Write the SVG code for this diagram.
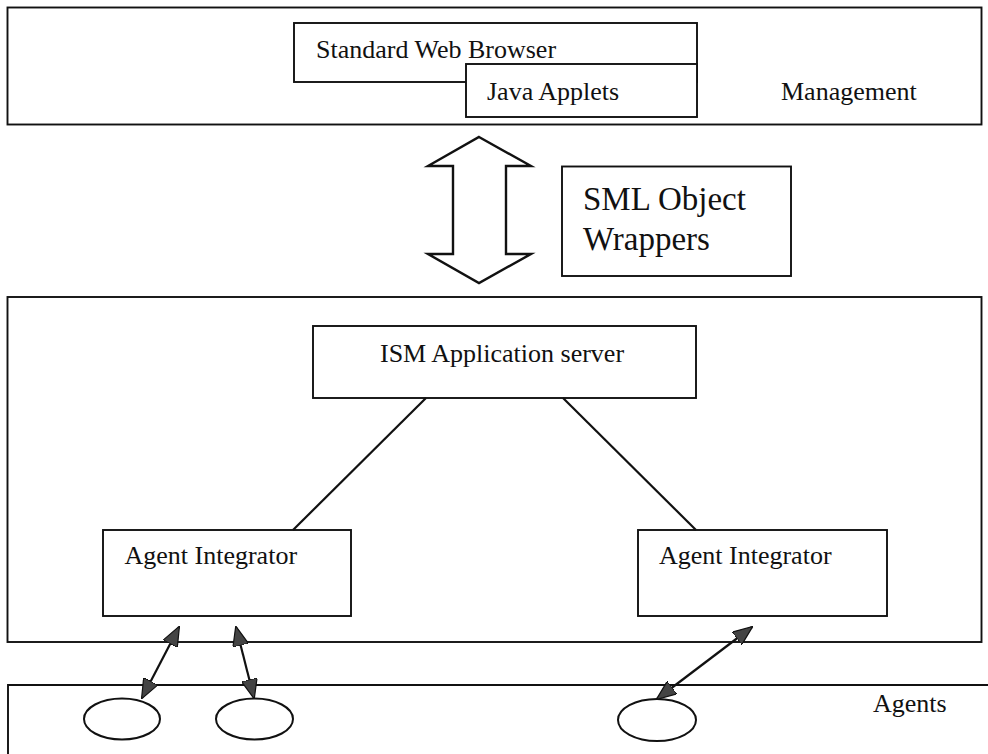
<svg xmlns="http://www.w3.org/2000/svg" width="988" height="754" viewBox="0 0 988 754">
  <style>
    .box { fill: #ffffff; stroke: #111111; stroke-width: 1.9; }
    .frame { fill: none; stroke: #111111; stroke-width: 1.9; }
    .lbl { font-family: "Liberation Serif", "Times New Roman", serif; font-size: 26px; fill: #111111; }
    .big { font-size: 33px; }
    .link { fill: none; stroke: #111111; stroke-width: 2.2; }
    .dbl { fill: none; stroke: #111111; stroke-width: 2.4; }
    .agent { fill: #ffffff; stroke: #111111; stroke-width: 2; }
  </style>
  <defs>
    <marker id="head" viewBox="0 0 20 16" refX="19" refY="8" markerWidth="20" markerHeight="16" markerUnits="userSpaceOnUse" orient="auto-start-reverse">
      <path d="M0,0 L20,8 L0,16 Z" fill="#444444" stroke="#111111" stroke-width="1.2"/>
    </marker>
  </defs>

  <rect width="988" height="754" fill="#ffffff"/>

  <!-- Management tier -->
  <g id="management">
    <rect class="frame" x="7.5" y="7.5" width="974" height="117"/>
    <text class="lbl" x="781" y="100">Management</text>
  </g>
  <g id="browser">
    <rect class="box" x="294" y="23" width="403" height="59"/>
    <text class="lbl" x="316" y="58">Standard Web Browser</text>
  </g>
  <g id="applets">
    <rect class="box" x="466" y="64" width="231" height="53"/>
    <text class="lbl" x="487" y="100">Java Applets</text>
  </g>

  <!-- SML wrapper exchange -->
  <g id="sml-wrappers">
    <rect class="box" x="562" y="166.5" width="229" height="109.5"/>
    <text class="lbl big" x="583" y="210">SML Object</text>
    <text class="lbl big" x="583" y="250">Wrappers</text>
  </g>

  <!-- Server tier -->
  <g id="server-tier">
    <rect class="frame" x="7.5" y="297" width="974" height="345"/>
  </g>
  <g id="ism-server">
    <rect class="box" x="313" y="326" width="383" height="72"/>
    <text class="lbl" x="380" y="362">ISM Application server</text>
  </g>
  <g id="integrator-left">
    <rect class="box" x="103" y="530" width="248" height="86"/>
    <text class="lbl" x="124.5" y="564">Agent Integrator</text>
  </g>
  <g id="integrator-right">
    <rect class="box" x="638" y="530" width="249" height="86"/>
    <text class="lbl" x="659" y="564">Agent Integrator</text>
  </g>

  <!-- Agents tier -->
  <g id="agents-tier">
    <path class="frame" d="M990,685 H8 V756"/>
    <text class="lbl" x="873" y="712">Agents</text>
  </g>
  <g id="agent-1"><ellipse class="agent" cx="122" cy="719" rx="38" ry="20.5"/></g>
  <g id="agent-2"><ellipse class="agent" cx="254.5" cy="719" rx="38.5" ry="20.5"/></g>
  <g id="agent-3"><ellipse class="agent" cx="657" cy="720" rx="39" ry="21"/></g>

  <!-- Connectors -->
  <g id="connectors">
    <polygon class="dbl" points="479,137 531,166 506,166 506,254 531,254 479,283 428,254 453,254 453,166 428,166"/>
    <line class="link" x1="426" y1="398" x2="293" y2="530"/>
    <line class="link" x1="563" y1="398" x2="696" y2="530"/>
    <line class="link" x1="179" y1="627" x2="142" y2="698" marker-start="url(#head)" marker-end="url(#head)"/>
    <line class="link" x1="236" y1="627" x2="254" y2="698" marker-start="url(#head)" marker-end="url(#head)"/>
    <line class="link" x1="752" y1="627" x2="657" y2="699" marker-start="url(#head)" marker-end="url(#head)"/>
  </g>
</svg>
